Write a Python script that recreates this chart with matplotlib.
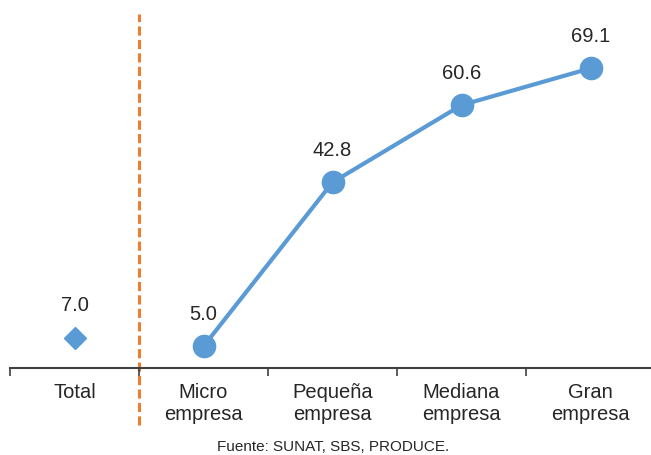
import numpy as np
import matplotlib.pyplot as plt

categories = ["Total", "Micro\nempresa", "Pequeña\nempresa", "Mediana\nempresa", "Gran\nempresa"]
total_value = [7.0]
firm_values = [5.0, 42.8, 60.6, 69.1]

blue = "#5B9BD5"
orange = "#ED7D31"
gray = "#404040"

plt.rcParams['font.family'] = ['Liberation Sans', 'DejaVu Sans']

fig = plt.figure(figsize=(6.51, 4.55), dpi=100)
ax = fig.add_axes([10 / 651, 87 / 455, 645 / 651, 347 / 455])

x_total = np.array([0])
x_firms = np.arange(1, len(categories))

ax.plot(x_total, total_value, linestyle='none', marker='D', markersize=11, color=blue)
ax.plot(x_firms, firm_values, color=blue, linewidth=3, marker='o', markersize=16,
        solid_capstyle='round')

for xi, v in zip(np.concatenate([x_total, x_firms]), total_value + firm_values):
    ax.annotate(f"{v:.1f}", (xi, v), xytext=(0, 23), textcoords='offset points',
                ha='center', va='center', fontsize=14.5, color='#262626')

# separator between the total and the firm-size groups
ax.plot([0.5, 0.5], [-13.2, 81.6], color=orange, linewidth=2.2, dashes=(3, 1.4),
        clip_on=False, zorder=0)

ax.set_xlim(-0.5, len(categories) - 0.5)
ax.set_ylim(0, 80)

ax.set_xticks(np.arange(-0.5, len(categories), 1.0))
ax.set_xticklabels([])
ax.set_xticks(np.arange(len(categories)), minor=True)
ax.set_xticklabels(categories, minor=True, fontsize=14.5, color='#262626', linespacing=1.2)
ax.tick_params(axis='x', which='major', length=6, width=1.2, color=gray, direction='out')
ax.tick_params(axis='x', which='minor', length=0, pad=11)
ax.set_yticks([])

for side in ['left', 'right', 'top']:
    ax.spines[side].set_visible(False)
ax.spines['bottom'].set_color(gray)
ax.spines['bottom'].set_linewidth(1.5)

fig.text(333 / 651, 1 - 447 / 455, "Fuente: SUNAT, SBS, PRODUCE.", ha='center', va='center',
         fontsize=11, color='#262626', family=['Liberation Sans Narrow', 'Liberation Sans', 'DejaVu Sans'])

fig.savefig("out.png", dpi=100)
